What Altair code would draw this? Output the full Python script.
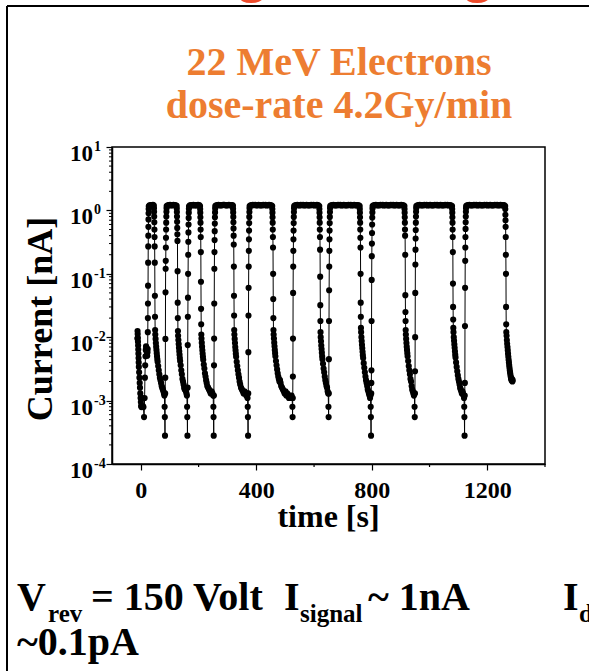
import altair as alt
import pandas as pd

FONT = "Liberation Serif"
ORANGE = "#ED7D31"
RED = "#EE4B2B"

pre = [(-12, 0.0095), (-11.5, 0.0125), (-11, 0.0112), (-10.5, 0.0098), (-10, 0.0085), (-9.5, 0.0074),
       (-9, 0.0064), (-8.5, 0.0055), (-8, 0.0047), (-7.5, 0.004), (-7, 0.0034), (-6, 0.0028), (-5, 0.0023),
       (-4, 0.0019), (-3, 0.0016), (-2, 0.0013), (-1, 0.0011), (0, 0.00095), (1, 0.00083), (2, 0.00079),
       (3, 0.0008), (5, 0.0011), (7, 0.00082), (9, 0.00079), (11, 0.00055), (13, 0.0011), (14, 0.0023),
       (15, 0.0036), (16, 0.005), (17, 0.0063), (18, 0.0072), (19, 0.0069), (20, 0.006), (21, 0.0053),
       (22, 0.0051), (23, 0.0058)]

pulse1 = [(23.6, 0.0065), (24.0, 0.012), (24.3, 0.02), (24.6, 0.034), (24.9, 0.065), (25.2, 0.15), (25.5, 0.27),
          (25.8, 0.4), (26.1, 0.55), (26.4, 0.72), (26.7, 0.9), (27.0, 1.05), (27.4, 1.16),
          (30, 1.2), (34, 1.21), (38, 1.2), (42, 1.22),
          (45.0, 1.19), (45.4, 1.08), (45.8, 0.95), (46.2, 0.8), (46.6, 0.65), (47.0, 0.5), (47.4, 0.38),
          (47.8, 0.27), (48.2, 0.15), (48.6, 0.045), (49.0, 0.021), (49.4, 0.013)]
tail1 = [(50, 0.011), (51, 0.0094), (52, 0.0081), (53, 0.0071), (54, 0.0063), (55, 0.0056), (56, 0.005),
         (57, 0.0045), (58, 0.0041), (60, 0.0035), (62, 0.003), (64, 0.0026), (66, 0.0023), (68, 0.0021),
         (70, 0.0019), (72, 0.0017), (74, 0.0016), (76, 0.0015), (78, 0.0014), (80, 0.0013), (81.5, 0.0012),
         (82.3, 0.0008), (83.0, 0.00055), (83.6, 0.00028)]

pulse2 = [(84.2, 0.0013), (84.6, 0.0023), (85.0, 0.0094), (85.4, 0.051), (85.8, 0.12), (86.2, 0.16), (86.6, 0.26),
          (87.0, 0.37), (87.4, 0.5), (87.8, 0.64), (88.2, 0.8), (88.6, 0.95), (89.0, 1.08), (89.4, 1.17),
          (93, 1.2), (97, 1.21), (101, 1.22), (105, 1.2), (109, 1.21), (113, 1.22), (117, 1.21), (121, 1.2),
          (124.0, 1.18), (124.4, 1.07), (124.8, 0.94), (125.2, 0.8), (125.6, 0.66), (126.0, 0.53), (126.4, 0.42),
          (126.8, 0.33), (127.2, 0.11), (127.6, 0.035), (128.0, 0.02), (128.4, 0.0125)]
tail2 = [(129, 0.0105), (130, 0.009), (131, 0.0078), (132, 0.0068), (133, 0.006), (134, 0.0053), (135, 0.0047),
         (136, 0.0042), (138, 0.0036), (140, 0.003), (142, 0.0026), (144, 0.0022), (146, 0.002), (148, 0.0018),
         (150, 0.0016), (152, 0.0015), (154, 0.0016), (156, 0.0014), (158, 0.0013), (159.5, 0.0012),
         (160.2, 0.0008), (160.8, 0.00055), (161.4, 0.00028)]

pulse3 = [(162.0, 0.0016), (162.4, 0.0075), (162.8, 0.021), (163.2, 0.042), (163.6, 0.1), (164.0, 0.2),
          (164.4, 0.32), (164.8, 0.45), (165.2, 0.6), (165.6, 0.76), (166.0, 0.92), (166.4, 1.06), (166.8, 1.16),
          (170, 1.2), (174, 1.21), (178, 1.2), (182, 1.22), (186, 1.21), (190, 1.2), (194, 1.21), (198, 1.22),
          (202, 1.21),
          (205.0, 1.17), (205.4, 1.05), (205.8, 0.92), (206.2, 0.78), (206.6, 0.64), (207.0, 0.5), (207.4, 0.38),
          (207.8, 0.22), (208.2, 0.075), (208.6, 0.028), (209.0, 0.016), (209.4, 0.011)]
tail3 = [(210, 0.0095), (211, 0.0082), (212, 0.0071), (213, 0.0062), (214, 0.0055), (215, 0.0049), (216, 0.0044),
         (218, 0.0037), (220, 0.0032), (222, 0.0027), (224, 0.0024), (226, 0.0021), (228, 0.0019), (230, 0.0017),
         (233, 0.0016), (236, 0.0015), (239, 0.0014), (242, 0.0013), (245, 0.0014), (248, 0.0013),
         (250.5, 0.0012), (251.2, 0.0008), (251.8, 0.00055), (252.4, 0.00028)]

pulse4 = [(253.0, 0.0012), (253.4, 0.0036), (253.8, 0.0095), (254.2, 0.034), (254.6, 0.12), (255.0, 0.22),
          (255.4, 0.34), (255.8, 0.47), (256.2, 0.62), (256.6, 0.78), (257.0, 0.93), (257.4, 1.07), (257.8, 1.17),
          (261, 1.2), (265, 1.21), (269, 1.22), (273, 1.21), (277, 1.2), (281, 1.21), (285, 1.22), (289, 1.22),
          (293, 1.21), (297, 1.2), (301, 1.21), (305, 1.22), (309, 1.21), (313, 1.2), (317, 1.21),
          (319.0, 1.18), (319.4, 1.06), (319.8, 0.93), (320.2, 0.79), (320.6, 0.65), (321.0, 0.52), (321.4, 0.4),
          (321.8, 0.29), (322.2, 0.13), (322.6, 0.045), (323.0, 0.022), (323.4, 0.013)]
tail4 = [(324, 0.011), (325, 0.0094), (326, 0.0081), (327, 0.007), (328, 0.0062), (329, 0.0055), (330, 0.0049),
         (332, 0.0041), (334, 0.0035), (336, 0.003), (338, 0.0026), (340, 0.0023), (342, 0.002), (344, 0.0018),
         (347, 0.0016), (350, 0.0015), (353, 0.0014), (356, 0.0013), (359, 0.0014), (362, 0.0013),
         (365, 0.0012), (368, 0.0013), (369.5, 0.0011), (370.2, 0.0008), (370.8, 0.00055), (371.4, 0.00028)]

pulse5 = [(372.0, 0.0013), (372.4, 0.0058), (372.8, 0.022), (373.2, 0.06), (373.6, 0.13), (374.0, 0.23),
          (374.4, 0.35), (374.8, 0.48), (375.2, 0.63), (375.6, 0.79), (376.0, 0.94), (376.4, 1.08), (376.8, 1.17),
          (380, 1.2), (384, 1.21), (388, 1.22), (392, 1.21), (396, 1.22), (400, 1.2), (404, 1.21), (408, 1.22),
          (412, 1.21), (416, 1.2), (420, 1.21), (424, 1.22), (428, 1.21), (432, 1.22), (436, 1.2), (440, 1.21),
          (444, 1.22), (448, 1.21), (452, 1.2),
          (455.0, 1.17), (455.4, 1.05), (455.8, 0.92), (456.2, 0.78), (456.6, 0.64), (457.0, 0.5), (457.4, 0.38),
          (457.8, 0.26), (458.2, 0.1), (458.6, 0.04), (459.0, 0.02), (459.4, 0.013)]
tail5 = [(460, 0.011), (461, 0.0095), (462, 0.0082), (463, 0.0072), (464, 0.0063), (465, 0.0056), (466, 0.005),
         (468, 0.0042), (470, 0.0036), (472, 0.0031), (474, 0.0027), (476, 0.0024), (478, 0.0022), (480, 0.002),
         (482, 0.0021), (484, 0.0019), (486, 0.0017), (489, 0.0016), (492, 0.0015), (495, 0.0014),
         (498, 0.0013), (501, 0.0014), (504, 0.0012), (507, 0.0013), (510, 0.0012), (513, 0.0011),
         (516, 0.0012), (519, 0.0011), (522, 0.0012), (524, 0.0011), (525.0, 0.0008), (525.6, 0.00055)]

pulse6 = [(526.2, 0.0011), (526.6, 0.0024), (527.0, 0.0095), (527.4, 0.05), (527.8, 0.13), (528.2, 0.23),
          (528.6, 0.35), (529.0, 0.48), (529.4, 0.63), (529.8, 0.79), (530.2, 0.94), (530.6, 1.08), (531.0, 1.17),
          (534, 1.2), (538, 1.21), (542, 1.22), (546, 1.21), (550, 1.2), (554, 1.22), (558, 1.21), (562, 1.22),
          (566, 1.2), (570, 1.21), (574, 1.22), (578, 1.21), (582, 1.2), (586, 1.21), (590, 1.22), (594, 1.21),
          (598, 1.22), (602, 1.2), (606, 1.21), (610, 1.22), (614, 1.21),
          (618.0, 1.17), (618.4, 1.05), (618.8, 0.92), (619.2, 0.78), (619.6, 0.64), (620.0, 0.5), (620.4, 0.38),
          (620.8, 0.24), (621.2, 0.09), (621.6, 0.032), (622.0, 0.018), (622.4, 0.012)]
tail6 = [(623, 0.01), (624, 0.0086), (625, 0.0074), (626, 0.0065), (627, 0.0057), (628, 0.005), (629, 0.0045),
         (631, 0.0038), (633, 0.0032), (635, 0.0028), (637, 0.0024), (639, 0.0021), (641, 0.0019),
         (643, 0.0017), (645, 0.0016), (647, 0.0014), (649, 0.0013), (649.8, 0.0008), (650.4, 0.00055)]

pulse7 = [(651.0, 0.0013), (651.4, 0.0045), (651.8, 0.018), (652.2, 0.055), (652.6, 0.13), (653.0, 0.23),
          (653.4, 0.35), (653.8, 0.48), (654.2, 0.63), (654.6, 0.79), (655.0, 0.94), (655.4, 1.08), (655.8, 1.17),
          (659, 1.2), (663, 1.21), (667, 1.22), (671, 1.21), (675, 1.2), (679, 1.21), (683, 1.22), (687, 1.21),
          (691, 1.22), (695, 1.2), (699, 1.21), (703, 1.22), (707, 1.21), (711, 1.2), (715, 1.21), (719, 1.22),
          (723, 1.21), (727, 1.22), (731, 1.2), (735, 1.21), (739, 1.22), (743, 1.21), (747, 1.2), (751, 1.21),
          (755, 1.2),
          (758.0, 1.17), (758.4, 1.05), (758.8, 0.92), (759.2, 0.78), (759.6, 0.64), (760.0, 0.5), (760.4, 0.37),
          (760.8, 0.26), (761.2, 0.1), (761.6, 0.035), (762.0, 0.021), (762.4, 0.014)]
tail7 = [(763, 0.012), (764, 0.01), (765, 0.0087), (766, 0.0076), (767, 0.0067), (768, 0.0059), (769, 0.0052),
         (770, 0.0047), (772, 0.0039), (774, 0.0033), (776, 0.0028), (778, 0.0024), (780, 0.0021), (782, 0.0019),
         (784, 0.0017), (786, 0.0015), (788, 0.0014), (790, 0.0013), (792, 0.0012), (794, 0.0011),
         (795.5, 0.0012), (796.2, 0.0008), (796.8, 0.00055), (797.4, 0.00028)]

pulse8 = [(798.0, 0.0013), (798.4, 0.0019), (798.8, 0.003), (799.2, 0.018), (799.6, 0.08), (800.0, 0.19),
          (800.4, 0.3), (800.8, 0.44), (801.2, 0.6), (801.6, 0.77), (802.0, 0.93), (802.4, 1.07), (802.8, 1.17),
          (806, 1.2), (810, 1.21), (814, 1.22), (818, 1.21), (822, 1.2), (826, 1.21), (830, 1.22), (834, 1.21),
          (838, 1.22), (842, 1.2), (846, 1.21), (850, 1.22), (854, 1.21), (858, 1.2), (862, 1.21), (866, 1.22),
          (870, 1.21), (874, 1.22), (878, 1.2), (882, 1.21), (886, 1.22), (890, 1.21), (894, 1.2), (898, 1.21),
          (902, 1.22), (906, 1.21), (910, 1.2),
          (913.0, 1.17), (913.4, 1.05), (913.8, 0.92), (914.2, 0.78), (914.6, 0.64), (915.0, 0.5), (915.4, 0.4),
          (915.8, 0.2), (916.2, 0.046), (916.6, 0.025), (917.0, 0.018), (917.4, 0.013)]
tail8 = [(918, 0.011), (919, 0.0094), (920, 0.0081), (921, 0.0071), (922, 0.0063), (923, 0.0056), (924, 0.005),
         (926, 0.0042), (928, 0.0035), (930, 0.003), (932, 0.0026), (934, 0.0022), (936, 0.002), (938, 0.0017),
         (940, 0.0015), (942, 0.0014), (944, 0.0013), (946, 0.0012), (947.5, 0.0013), (948.2, 0.0008),
         (948.8, 0.00055)]

pulse9 = [(949.4, 0.0013), (949.8, 0.0029), (950.2, 0.01), (950.6, 0.05), (951.0, 0.14), (951.4, 0.24),
          (951.8, 0.36), (952.2, 0.49), (952.6, 0.64), (953.0, 0.8), (953.4, 0.95), (953.8, 1.08), (954.2, 1.17),
          (958, 1.2), (962, 1.21), (966, 1.22), (970, 1.21), (974, 1.2), (978, 1.21), (982, 1.22), (986, 1.21),
          (990, 1.22), (994, 1.2), (998, 1.21), (1002, 1.22), (1006, 1.21), (1010, 1.2), (1014, 1.21),
          (1018, 1.22), (1022, 1.21), (1026, 1.22), (1030, 1.2), (1034, 1.21), (1038, 1.22), (1042, 1.21),
          (1046, 1.2), (1050, 1.21), (1054, 1.22), (1058, 1.21), (1062, 1.22), (1066, 1.2), (1070, 1.21),
          (1074, 1.2),
          (1078.0, 1.17), (1078.4, 1.05), (1078.8, 0.92), (1079.2, 0.78), (1079.6, 0.64), (1080.0, 0.5),
          (1080.4, 0.38), (1080.8, 0.22), (1081.2, 0.07), (1081.6, 0.03), (1082.0, 0.019), (1082.4, 0.014)]
tail9 = [(1083, 0.012), (1084, 0.01), (1085, 0.0088), (1086, 0.0077), (1087, 0.0068), (1088, 0.006),
         (1089, 0.0053), (1090, 0.0048), (1092, 0.004), (1094, 0.0034), (1096, 0.0029), (1098, 0.0025),
         (1100, 0.0022), (1102, 0.002), (1104, 0.0018), (1106, 0.0016), (1108, 0.0015), (1110, 0.0014),
         (1112, 0.0013), (1114, 0.0014), (1116, 0.0013), (1118, 0.0012), (1119.5, 0.0011), (1120.2, 0.0008),
         (1120.8, 0.00055), (1121.4, 0.00028)]

pulse10 = [(1122.0, 0.0012), (1122.4, 0.0019), (1122.8, 0.015), (1123.2, 0.06), (1123.6, 0.16), (1124.0, 0.26),
           (1124.4, 0.38), (1124.8, 0.51), (1125.2, 0.65), (1125.6, 0.8), (1126.0, 0.95), (1126.4, 1.08),
           (1126.8, 1.17),
           (1130, 1.2), (1134, 1.21), (1138, 1.22), (1142, 1.21), (1146, 1.2), (1150, 1.21), (1154, 1.22),
           (1158, 1.21), (1162, 1.22), (1166, 1.2), (1170, 1.21), (1174, 1.22), (1178, 1.21), (1182, 1.2),
           (1186, 1.21), (1190, 1.22), (1194, 1.21), (1198, 1.22), (1202, 1.2), (1206, 1.21), (1210, 1.22),
           (1214, 1.21), (1218, 1.2), (1222, 1.21), (1226, 1.22), (1230, 1.21), (1234, 1.22), (1238, 1.2),
           (1242, 1.21), (1246, 1.22), (1250, 1.21), (1254, 1.2), (1258, 1.21),
           (1262.0, 1.17), (1262.4, 1.05), (1262.8, 0.85), (1263.2, 0.7), (1263.6, 0.55), (1264.0, 0.38),
           (1264.4, 0.2), (1264.8, 0.1), (1265.2, 0.03), (1265.6, 0.016), (1266.0, 0.012)]
tail10 = [(1267, 0.0105), (1268, 0.009), (1269, 0.0079), (1270, 0.007), (1271, 0.0062), (1272, 0.0055),
          (1273, 0.0049), (1274, 0.0044), (1275, 0.004), (1276, 0.0036), (1277, 0.0033), (1278, 0.003),
          (1279, 0.0028), (1280, 0.0026), (1281, 0.0024), (1282, 0.0023), (1283, 0.0022), (1284, 0.0021),
          (1285, 0.0022), (1286, 0.0021), (1287, 0.002), (1288, 0.0021)]

segments = [pre, pulse1, tail1, pulse2, tail2, pulse3, tail3, pulse4, tail4, pulse5, tail5,
            pulse6, tail6, pulse7, tail7, pulse8, tail8, pulse9, tail9, pulse10, tail10]

x_major = [0, 400, 800, 1200]
x_minor = [200, 600, 1000, 1400]
y_exponents = [-4, -3, -2, -1, 0, 1]

# ---- tables ----
df = pd.DataFrame([p for seg in segments for p in seg], columns=["time", "current"])
df_exp = pd.DataFrame({"val": [10.0 ** e for e in y_exponents],
                       "base": ["10"] * len(y_exponents),
                       "sup": [str(e) for e in y_exponents]})
df_xminor = pd.DataFrame({"t": x_minor})
df_yminor = pd.DataFrame({"v": [m * 10.0 ** k for k in range(-4, 1) for m in range(2, 10)]})

W, H = 433, 317
xs = alt.Scale(domain=[-100, 1400], nice=False, zero=False)
ys = alt.Scale(type="log", domain=[1e-4, 10], nice=False)
x_axis = alt.Axis(values=x_major, format="d", tickSize=6, tickColor="black", tickWidth=1.2,
                  domainColor="black", domainWidth=1.5, labelFont=FONT, labelFontWeight="bold",
                  labelFontSize=24, labelColor="black", labelPadding=8, grid=False, title=None)
y_axis = alt.Axis(values=[10.0 ** e for e in y_exponents], tickSize=6, tickColor="black", tickWidth=1.2,
                  domainColor="black", domainWidth=1.5, labels=False, grid=False, title=None)

X = alt.X("time:Q", scale=xs, axis=x_axis)
Y = alt.Y("current:Q", scale=ys, axis=y_axis)

line = alt.Chart(df).mark_line(color="black", strokeWidth=1).encode(x=X, y=Y)
dots = alt.Chart(df).mark_circle(color="black", size=38, opacity=1).encode(x=X, y=Y)

xminor = alt.Chart(df_xminor).mark_rule(color="black", strokeWidth=1.2).encode(
    x=alt.X("t:Q", scale=xs, axis=x_axis), y=alt.value(H), y2=alt.value(H + 3))
yminor = alt.Chart(df_yminor).mark_rule(color="black", strokeWidth=1).encode(
    y=alt.Y("v:Q", scale=ys, axis=y_axis), x=alt.value(-3), x2=alt.value(0))

ylab_base = alt.Chart(df_exp).mark_text(align="right", baseline="alphabetic", font=FONT, fontWeight="bold",
                                        fontSize=23, color="black", dy=14).encode(
    y=alt.Y("val:Q", scale=ys, axis=y_axis), x=alt.value(-19), text="base:N")
ylab_sup = alt.Chart(df_exp).mark_text(align="left", baseline="alphabetic", font=FONT, fontWeight="bold",
                                       fontSize=14, color="black", dy=4).encode(
    y=alt.Y("val:Q", scale=ys, axis=y_axis), x=alt.value(-18), text="sup:N")


def label(txt, x, y, size, color="black", align="left", angle=0, weight="bold"):
    return alt.Chart(pd.DataFrame({"t": [txt]})).mark_text(
        align=align, baseline="alphabetic", font=FONT, fontWeight=weight, fontSize=size,
        color=color, angle=angle).encode(x=alt.value(x), y=alt.value(y), text="t:N")


OX, OY = 112, 147  # plot origin in page pixels
texts = [
    label("g", 252 - OX, -9 - OY, 54, RED, "center"),
    label("g", 478 - OX, -9 - OY, 54, RED, "center"),
    label("22 MeV Electrons", 339 - OX, 75 - OY, 40, ORANGE, "center"),
    label("dose-rate 4.2Gy/min", 339 - OX, 118 - OY, 40, ORANGE, "center"),
    label("Current [nA]", 52 - OX, 319 - OY, 36, "black", "center", 270),
    label("time [s]", W / 2, 527 - OY, 32, "black", "center"),
    label("V", 17 - OX, 610 - OY, 40),
    label("rev", 48 - OX, 622 - OY, 25),
    label("= 150 Volt", 91 - OX, 610 - OY, 40),
    label("I", 284 - OX, 610 - OY, 40),
    label("signal", 300 - OX, 622 - OY, 25),
    label("~ 1nA", 368 - OX, 610 - OY, 40),
    label("I", 563 - OX, 610 - OY, 40),
    label("d", 579 - OX, 622 - OY, 25),
    label("~0.1pA", 17 - OX, 655 - OY, 40),
]

frame_top = alt.Chart(pd.DataFrame({"a": [0]})).mark_rule(color="black", strokeWidth=2).encode(
    x=alt.value(7 - OX), x2=alt.value(600 - OX), y=alt.value(6 - OY))
frame_left = alt.Chart(pd.DataFrame({"a": [0]})).mark_rule(color="black", strokeWidth=2).encode(
    x=alt.value(7 - OX), y=alt.value(6 - OY), y2=alt.value(680 - OY))

chart = alt.layer(line, dots, xminor, yminor, ylab_base, ylab_sup, frame_top, frame_left, *texts).properties(
    width=W, height=H,
    autosize=alt.AutoSizeParams(type="none"),
    padding={"left": OX, "top": OY, "right": 589 - OX - W, "bottom": 671 - OY - H},
    background="white",
).configure_view(stroke="black", strokeWidth=1.5)

chart.save("out.html", embed_options={"renderer": "svg", "actions": False})
